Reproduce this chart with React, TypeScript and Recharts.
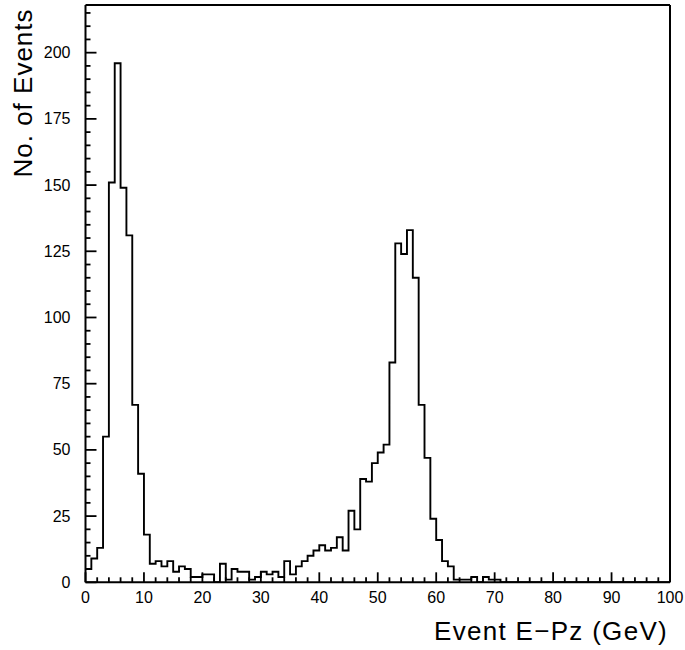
import React from 'react';
import { ComposedChart, Line, XAxis, YAxis, ReferenceLine, Label } from 'recharts';

// events per 1 GeV bin of E-Pz, bins start at 0, 1, 2 ... 99 GeV
const eventCounts = [
  5, 9, 13, 55, 151, 196, 149, 131, 67, 41, // 0-9
  18, 7, 8, 6, 8, 4, 6, 5, 2, 2, // 10-19
  3, 3, 0, 7, 1, 5, 4, 4, 1, 2, // 20-29
  4, 3, 4, 2, 8, 3, 6, 8, 10, 12, // 30-39
  14, 12, 13, 17, 12, 27, 20, 39, 38, 45, // 40-49
  49, 52, 83, 128, 124, 133, 115, 67, 47, 24, // 50-59
  16, 8, 6, 1, 1, 1, 2, 0, 2, 1, // 60-69
  1, 0, 0, 0, 0, 0, 0, 0, 0, 0, // 70-79
  0, 0, 0, 0, 0, 0, 0, 0, 0, 0, // 80-89
  0, 0, 0, 0, 0, 0, 0, 0, 0, 0, // 90-99
];

const BIN_WIDTH = 1;
const X_MAX = 100;
const Y_MAX = 218;

const xLabelTicks = [0, 10, 20, 30, 40, 50, 60, 70, 80, 90, 100];
const yLabelTicks = [0, 25, 50, 75, 100, 125, 150, 175, 200];
const X_MINOR_STEP = 2;
const Y_MINOR_STEP = 5;

const xTicks = Array.from({ length: X_MAX / X_MINOR_STEP + 1 }, (_, i) => i * X_MINOR_STEP);
const yTicks = Array.from({ length: Math.floor(Y_MAX / Y_MINOR_STEP) + 1 }, (_, i) => i * Y_MINOR_STEP);

// step outline: one point per bin edge, last edge repeats the last bin
const histData = eventCounts
  .map((n, i) => ({ e: i * BIN_WIDTH, n }))
  .concat([{ e: eventCounts.length * BIN_WIDTH, n: eventCounts[eventCounts.length - 1] }]);

const FONT = '"Liberation Sans", Arial, Helvetica, sans-serif';

const XTick = (props: any) => {
  const { x, y, payload } = props;
  const major = xLabelTicks.includes(payload.value);
  return (
    <g>
      <line x1={x} x2={x} y1={y} y2={y - (major ? 10 : 5)} stroke="#000" strokeWidth={1.8} />
      {major && (
        <text x={x} y={y + 15} textAnchor="middle" dominantBaseline="central"
          fontSize={16} fontFamily={FONT} fill="#000">
          {payload.value}
        </text>
      )}
    </g>
  );
};

const YTick = (props: any) => {
  const { x, y, payload } = props;
  const major = yLabelTicks.includes(payload.value);
  return (
    <g>
      <line x1={x} x2={x + (major ? 11 : 5)} y1={y} y2={y} stroke="#000" strokeWidth={1.8} />
      {major && (
        <text x={x - 15} y={y} textAnchor="end" dominantBaseline="central"
          fontSize={16} fontFamily={FONT} fill="#000">
          {payload.value}
        </text>
      )}
    </g>
  );
};

const App = () => {
  return (
    <div style={{ position: 'absolute', left: 0, top: 0, background: '#fff' }}>
      <ComposedChart width={685} height={650} data={histData}
        margin={{ top: 5, right: 15, bottom: 0, left: 0 }}>
        <XAxis dataKey="e" type="number" domain={[0, X_MAX]} ticks={xTicks} interval={0}
          height={67.7} tickSize={0} tickMargin={0} tick={<XTick />} tickLine={false}
          axisLine={{ stroke: '#000', strokeWidth: 2 }}>
          <Label content={() => (
            <text x={668} y={640} textAnchor="end" fontSize={26} letterSpacing={1.3}
              fontFamily={FONT} fill="#000">
              Event E−Pz (GeV)
            </text>
          )} />
        </XAxis>
        <YAxis type="number" domain={[0, Y_MAX]} ticks={yTicks} interval={0} width={85.5}
          allowDataOverflow tickSize={0} tickMargin={0} tick={<YTick />} tickLine={false}
          axisLine={{ stroke: '#000', strokeWidth: 2 }}>
          <Label content={() => (
            <text x={32} y={93} textAnchor="middle" fontSize={26} letterSpacing={1}
              fontFamily={FONT} fill="#000" transform="rotate(-90, 32, 93)">
              No. of Events
            </text>
          )} />
        </YAxis>
        <ReferenceLine y={Y_MAX} stroke="#000" strokeWidth={2} />
        <ReferenceLine x={X_MAX} stroke="#000" strokeWidth={2} />
        <Line type="stepAfter" dataKey="n" stroke="#000" strokeWidth={1.9} dot={false}
          activeDot={false} isAnimationActive={false} />
      </ComposedChart>
    </div>
  );
};

export default App;
